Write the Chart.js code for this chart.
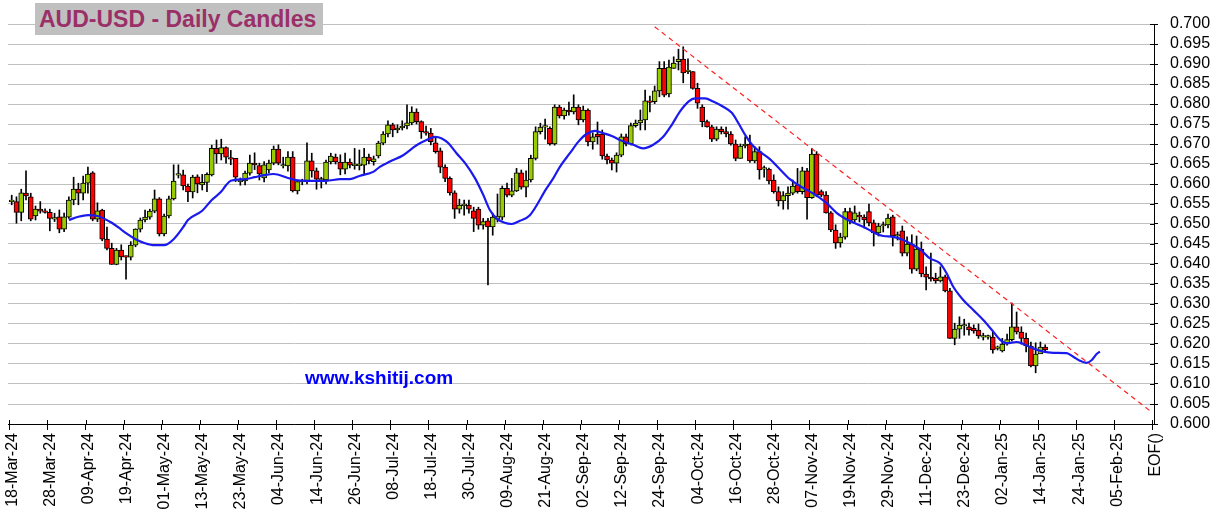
<!DOCTYPE html>
<html>
<head>
<meta charset="utf-8">
<script src="https://cdn.jsdelivr.net/npm/chart.js@4.4.1/dist/chart.umd.min.js"></script>
<style>
  html, body { margin: 0; padding: 0; background: #ffffff; }
  #wrap { position: relative; width: 1220px; height: 532px; overflow: hidden; }
  canvas { position: absolute; left: 0; top: 0; }
  #title { position: absolute; left: 35px; top: 3px; width: 288px; height: 32px; background: #c0c0c0;
           font: bold 23px "Liberation Sans", Arial, sans-serif; color: #9b3068; line-height: 32px;
           padding-left: 4px; box-sizing: border-box; white-space: nowrap; }
  #site { position: absolute; left: 305px; top: 368px; font: bold 19px "Liberation Sans", Arial, sans-serif;
          color: #0000ff; line-height: 19px; white-space: nowrap; }
</style>
</head>
<body>
<div id="wrap">
  <canvas id="c" width="1220" height="532"></canvas>
  <div id="title">AUD-USD - Daily Candles</div>
  <div id="site">www.kshitij.com</div>
</div>
<script>
// ---- tick labels (every 8 trading days, first at index 0) ----
const tickLabels = ['18-Mar-24','28-Mar-24','09-Apr-24','19-Apr-24','01-May-24','13-May-24','23-May-24','04-Jun-24',
  '14-Jun-24','26-Jun-24','08-Jul-24','18-Jul-24','30-Jul-24','09-Aug-24','21-Aug-24','02-Sep-24','12-Sep-24',
  '24-Sep-24','04-Oct-24','16-Oct-24','28-Oct-24','07-Nov-24','19-Nov-24','29-Nov-24','11-Dec-24','23-Dec-24',
  '02-Jan-25','14-Jan-25','24-Jan-25','05-Feb-25','EOF()'];
const tickStep = 8;

// ---- daily candles (index 0 = 18-Mar-24) ----
const openP = [
0.6556,0.6556,0.6529,0.6577,0.6568,0.6520,0.6537,0.6532,0.6529,0.6512,
0.6518,0.6487,0.6517,0.6560,0.6587,0.6577,0.6602,0.6628,0.6512,0.6535,
0.6462,0.6439,0.6399,0.6435,0.6418,0.6417,0.6447,0.6487,0.6510,0.6517,
0.6532,0.6563,0.6475,0.6520,0.6563,0.6622,0.6623,0.6595,0.6580,0.6618,
0.6598,0.6604,0.6623,0.6689,0.6675,0.6691,0.6664,0.6664,0.6606,0.6608,
0.6627,0.6652,0.6646,0.6615,0.6635,0.6652,0.6687,0.6645,0.6645,0.6667,
0.6583,0.6605,0.6606,0.6658,0.6633,0.6610,0.6610,0.6655,0.6667,0.6655,
0.6637,0.6655,0.6646,0.6646,0.6647,0.6667,0.6656,0.6670,0.6702,0.6725,
0.6748,0.6735,0.6740,0.6745,0.6753,0.6780,0.6756,0.6731,0.6727,0.6703,
0.6683,0.6642,0.6614,0.6578,0.6537,0.6546,0.6547,0.6533,0.6537,0.6497,
0.6508,0.6493,0.6512,0.6517,0.6589,0.6572,0.6583,0.6628,0.6592,0.6610,
0.6664,0.6731,0.6742,0.6739,0.6700,0.6792,0.6770,0.6785,0.6780,0.6792,
0.6760,0.6785,0.6705,0.6725,0.6725,0.6670,0.6660,0.6652,0.6672,0.6718,
0.6700,0.6746,0.6753,0.6760,0.6808,0.6806,0.6833,0.6889,0.6825,0.6889,
0.6906,0.6912,0.6881,0.6881,0.6839,0.6792,0.6756,0.6743,0.6712,0.6737,
0.6731,0.6725,0.6700,0.6664,0.6695,0.6700,0.6658,0.6681,0.6637,0.6637,
0.6610,0.6581,0.6558,0.6571,0.6577,0.6598,0.6581,0.6633,0.6566,0.6675,
0.6581,0.6572,0.6528,0.6485,0.6453,0.6467,0.6531,0.6510,0.6520,0.6517,
0.6531,0.6503,0.6478,0.6495,0.6498,0.6518,0.6470,0.6483,0.6427,0.6450,
0.6387,0.6437,0.6375,0.6367,0.6364,0.6358,0.6368,0.6333,0.6214,0.6237,
0.6245,0.6243,0.6239,0.6235,0.6217,0.6217,0.6217,0.6189,0.6183,0.6200,
0.6211,0.6243,0.6230,0.6214,0.6195,0.6145,0.6175,0.6192];
const highP = [
0.6572,0.6568,0.6587,0.6633,0.6577,0.6545,0.6556,0.6538,0.6537,0.6527,
0.6535,0.6527,0.6568,0.6617,0.6602,0.6620,0.6642,0.6631,0.6553,0.6537,
0.6492,0.6452,0.6439,0.6448,0.6420,0.6456,0.6488,0.6515,0.6535,0.6537,
0.6585,0.6566,0.6525,0.6570,0.6648,0.6648,0.6635,0.6600,0.6622,0.6623,
0.6624,0.6628,0.6697,0.6710,0.6712,0.6693,0.6684,0.6664,0.6615,0.6632,
0.6672,0.6678,0.6652,0.6656,0.6660,0.6695,0.6698,0.6667,0.6681,0.6681,
0.6610,0.6612,0.6703,0.6677,0.6640,0.6617,0.6660,0.6677,0.6675,0.6673,
0.6677,0.6663,0.6689,0.6685,0.6689,0.6675,0.6670,0.6707,0.6731,0.6758,
0.6752,0.6748,0.6758,0.6798,0.6793,0.6788,0.6758,0.6745,0.6739,0.6718,
0.6690,0.6648,0.6618,0.6583,0.6562,0.6560,0.6560,0.6542,0.6542,0.6514,
0.6514,0.6527,0.6575,0.6595,0.6602,0.6614,0.6639,0.6635,0.6633,0.6672,
0.6743,0.6752,0.6762,0.6743,0.6798,0.6797,0.6790,0.6805,0.6823,0.6798,
0.6795,0.6788,0.6728,0.6755,0.6735,0.6675,0.6665,0.6678,0.6725,0.6725,
0.6752,0.6760,0.6785,0.6835,0.6820,0.6845,0.6906,0.6906,0.6910,0.6918,
0.6937,0.6943,0.6913,0.6881,0.6852,0.6798,0.6760,0.6747,0.6743,0.6743,
0.6742,0.6731,0.6710,0.6700,0.6718,0.6722,0.6693,0.6693,0.6645,0.6640,
0.6623,0.6593,0.6581,0.6593,0.6610,0.6639,0.6642,0.6639,0.6689,0.6681,
0.6585,0.6581,0.6531,0.6498,0.6477,0.6539,0.6540,0.6545,0.6530,0.6523,
0.6550,0.6510,0.6502,0.6505,0.6525,0.6522,0.6480,0.6495,0.6468,0.6473,
0.6470,0.6455,0.6393,0.6427,0.6377,0.6393,0.6372,0.6339,0.6252,0.6268,
0.6262,0.6252,0.6248,0.6250,0.6227,0.6222,0.6231,0.6195,0.6214,0.6225,
0.6302,0.6280,0.6243,0.6227,0.6205,0.6203,0.6205,0.6198];
const lowP = [
0.6548,0.6502,0.6508,0.6560,0.6508,0.6510,0.6527,0.6527,0.6483,0.6506,
0.6478,0.6481,0.6514,0.6548,0.6548,0.6560,0.6577,0.6508,0.6506,0.6458,
0.6435,0.6399,0.6398,0.6410,0.6362,0.6410,0.6443,0.6480,0.6505,0.6512,
0.6528,0.6470,0.6470,0.6515,0.6560,0.6615,0.6585,0.6556,0.6565,0.6578,
0.6585,0.6581,0.6620,0.6652,0.6660,0.6652,0.6648,0.6606,0.6597,0.6598,
0.6622,0.6636,0.6610,0.6605,0.6628,0.6648,0.6648,0.6640,0.6632,0.6580,
0.6575,0.6598,0.6600,0.6617,0.6587,0.6590,0.6600,0.6650,0.6650,0.6623,
0.6625,0.6640,0.6637,0.6635,0.6625,0.6650,0.6647,0.6665,0.6698,0.6718,
0.6718,0.6728,0.6735,0.6738,0.6748,0.6750,0.6714,0.6722,0.6698,0.6677,
0.6628,0.6606,0.6572,0.6514,0.6527,0.6522,0.6527,0.6481,0.6487,0.6487,
0.6348,0.6472,0.6505,0.6510,0.6568,0.6568,0.6581,0.6587,0.6568,0.6605,
0.6660,0.6725,0.6712,0.6697,0.6697,0.6765,0.6762,0.6772,0.6775,0.6748,
0.6755,0.6695,0.6687,0.6700,0.6662,0.6650,0.6635,0.6630,0.6668,0.6695,
0.6698,0.6742,0.6735,0.6735,0.6780,0.6801,0.6818,0.6818,0.6818,0.6889,
0.6885,0.6853,0.6876,0.6837,0.6789,0.6743,0.6742,0.6706,0.6708,0.6725,
0.6718,0.6697,0.6658,0.6664,0.6690,0.6654,0.6653,0.6612,0.6617,0.6600,
0.6577,0.6545,0.6537,0.6537,0.6573,0.6577,0.6575,0.6512,0.6564,0.6568,
0.6568,0.6527,0.6481,0.6439,0.6442,0.6462,0.6500,0.6505,0.6505,0.6490,
0.6495,0.6445,0.6470,0.6480,0.6490,0.6445,0.6460,0.6420,0.6420,0.6377,
0.6383,0.6368,0.6335,0.6357,0.6352,0.6355,0.6330,0.6214,0.6198,0.6214,
0.6222,0.6222,0.6227,0.6214,0.6210,0.6212,0.6177,0.6185,0.6180,0.6197,
0.6208,0.6225,0.6200,0.6180,0.6143,0.6128,0.6180,0.6182];
const closeP = [
0.6557,0.6529,0.6578,0.6570,0.6512,0.6537,0.6532,0.6529,0.6514,0.6516,
0.6487,0.6518,0.6560,0.6587,0.6577,0.6602,0.6625,0.6512,0.6533,0.6462,
0.6439,0.6399,0.6435,0.6418,0.6417,0.6447,0.6487,0.6510,0.6517,0.6532,
0.6563,0.6475,0.6520,0.6563,0.6607,0.6625,0.6595,0.6580,0.6617,0.6600,
0.6604,0.6624,0.6689,0.6675,0.6691,0.6667,0.6662,0.6617,0.6610,0.6627,
0.6652,0.6648,0.6625,0.6648,0.6652,0.6687,0.6652,0.6645,0.6667,0.6583,
0.6606,0.6607,0.6658,0.6633,0.6612,0.6610,0.6655,0.6670,0.6655,0.6637,
0.6655,0.6647,0.6646,0.6647,0.6667,0.6658,0.6663,0.6702,0.6725,0.6748,
0.6735,0.6740,0.6745,0.6753,0.6780,0.6756,0.6731,0.6727,0.6706,0.6681,
0.6642,0.6614,0.6578,0.6537,0.6547,0.6547,0.6537,0.6514,0.6497,0.6506,
0.6493,0.6517,0.6520,0.6589,0.6572,0.6583,0.6628,0.6592,0.6610,0.6664,
0.6731,0.6742,0.6744,0.6700,0.6792,0.6770,0.6785,0.6780,0.6792,0.6760,
0.6785,0.6705,0.6718,0.6718,0.6670,0.6660,0.6652,0.6672,0.6718,0.6700,
0.6746,0.6752,0.6760,0.6808,0.6804,0.6833,0.6889,0.6822,0.6892,0.6902,
0.6912,0.6878,0.6881,0.6839,0.6802,0.6756,0.6743,0.6712,0.6737,0.6731,
0.6725,0.6700,0.6664,0.6695,0.6700,0.6658,0.6681,0.6635,0.6639,0.6608,
0.6581,0.6558,0.6571,0.6577,0.6595,0.6581,0.6633,0.6566,0.6675,0.6572,
0.6572,0.6528,0.6485,0.6453,0.6467,0.6531,0.6508,0.6528,0.6518,0.6510,
0.6503,0.6478,0.6495,0.6498,0.6515,0.6470,0.6472,0.6427,0.6450,0.6387,
0.6437,0.6375,0.6367,0.6363,0.6358,0.6368,0.6333,0.6214,0.6237,0.6247,
0.6247,0.6235,0.6233,0.6220,0.6217,0.6217,0.6185,0.6189,0.6200,0.6211,
0.6243,0.6230,0.6214,0.6195,0.6145,0.6175,0.6192,0.6185];

// ---- blue moving-average line, read at these bar positions ----
const maX = [12,14,16,18,21,23,24,26,28,30,32,34,36,37,40,42,44,45,46,49,51,53,55,58,60,63,66,69,71,73,76,77.3,79.4,
  82.2,85,87.1,88.9,90.3,91.7,93.4,95.2,97.3,99,100.4,101.8,103.5,105,106.7,108.8,112.3,113.7,115.1,117.2,119,120.7,
  122.5,123.9,126,127.7,130.5,132.6,134.7,136.8,138.6,140.3,142.1,143.5,145.6,147.3,149.4,151.2,152.6,154,155.7,157.3,
  159.2,161.3,163.4,165.5,167.6,169.4,171.1,173.2,175.3,177.4,179.5,181.3,183,185.1,187.2,188.6,190.7,192.8,194.9,
  196.3,197.7,199.8,201.9,204,206.1,207.5,208.9,211,212.4,214.5,216.6,218.7,221.5,222.9,224.3,225.7,226.8,227.8,228.5];
const maY = [0.6510,0.6518,0.6522,0.6520,0.6503,0.6486,0.6477,0.6462,0.6452,0.6447,0.6447,0.6462,0.6492,0.6510,0.6533,
  0.6560,0.6581,0.6597,0.6608,0.6612,0.6617,0.6622,0.6625,0.6615,0.6609,0.6608,0.6608,0.6612,0.6612,0.6620,0.6631,0.6643,
  0.6656,0.6672,0.6697,0.6710,0.6718,0.6714,0.6702,0.6677,0.6652,0.6614,0.6573,0.6535,0.6514,0.6503,0.6500,0.6508,0.6522,
  0.6589,0.6614,0.6643,0.6677,0.6706,0.6725,0.6733,0.6728,0.6720,0.6710,0.6698,0.6689,0.6698,0.6718,0.6748,0.6781,0.6806,
  0.6814,0.6814,0.6806,0.6793,0.6778,0.6752,0.6723,0.6695,0.6679,0.6662,0.6637,0.6612,0.6595,0.6581,0.6568,0.6552,0.6528,
  0.6512,0.6500,0.6489,0.6477,0.6470,0.6468,0.6460,0.6452,0.6437,0.6414,0.6402,0.6377,0.6343,0.6310,0.6285,0.6260,0.6231,
  0.6211,0.6202,0.6205,0.6200,0.6189,0.6181,0.6178,0.6177,0.6168,0.6158,0.6153,0.6160,0.6175,0.6181];

// ---- red dashed trend line ----
const trendX = [135, 239];
const trendY = [0.6993, 0.6033];

// ---- y axis ----
const yMin = 0.600, yMax = 0.700, yStep = 0.005;

const idx = openP.map((_, i) => i);
const wickData = idx.map(i => ({ x: i, y: [lowP[i], highP[i]] }));
const bodyData = idx.map(i => ({ x: i, y: [openP[i], closeP[i]] }));
const bodyColors = idx.map(i => closeP[i] >= openP[i] ? '#99cc00' : '#ff0000');
const maData = maX.map((x, k) => ({ x, y: maY[k] }));
const trendData = trendX.map((x, k) => ({ x, y: trendY[k] }));

Chart.defaults.font.family = '"Liberation Sans", Arial, sans-serif';
Chart.defaults.color = '#000';

const crossTicks = {
  id: 'crossTicks',
  afterDraw(chart) {
    const { ctx, chartArea, scales } = chart;
    ctx.save();
    ctx.strokeStyle = '#000';
    ctx.lineWidth = 1;
    ctx.beginPath();
    scales.y.ticks.forEach(t => {
      const py = Math.round(scales.y.getPixelForValue(t.value)) + 0.5;
      ctx.moveTo(chartArea.right - 4, py); ctx.lineTo(chartArea.right, py);
    });
    scales.x.ticks.forEach(t => {
      const px = Math.round(scales.x.getPixelForValue(t.value)) + 0.5;
      ctx.moveTo(px, chartArea.bottom - 4); ctx.lineTo(px, chartArea.bottom);
    });
    ctx.stroke();
    ctx.restore();
  }
};

new Chart(document.getElementById('c'), {
  data: {
    datasets: [
      { type: 'bar', data: wickData, backgroundColor: '#000', borderWidth: 0, barThickness: 1,
        grouped: false, order: 3 },
      { type: 'bar', data: bodyData, backgroundColor: bodyColors, borderColor: '#000', borderWidth: 1,
        borderSkipped: false, barThickness: 5, minBarLength: 1.5, grouped: false, order: 2 },
      { type: 'line', data: maData, borderColor: '#1a1aee', borderWidth: 2.2, pointRadius: 0,
        cubicInterpolationMode: 'monotone', order: 1 },
      { type: 'line', data: trendData, borderColor: '#ff2020', borderWidth: 1.2, borderDash: [5, 4],
        pointRadius: 0, order: 0 }
    ]
  },
  options: {
    responsive: false,
    animation: false,
    devicePixelRatio: 1,
    layout: { padding: { left: 8, top: 24, right: 0, bottom: 0 } },
    plugins: { legend: { display: false }, tooltip: { enabled: false }, title: { display: false } },
    scales: {
      x: {
        type: 'linear',
        offset: false,
        min: -0.78, max: 239.85,
        afterBuildTicks: (s) => { s.ticks = tickLabels.map((_, k) => ({ value: k * tickStep - 0.5 })); },
        afterFit: (s) => { s.height = 108; s.paddingLeft = 0; s.paddingRight = 0; },
        ticks: {
          autoSkip: false, minRotation: 90, maxRotation: 90, padding: 3, labelOffset: 3,
          font: { size: 16 }, color: '#000',
          callback: (v) => tickLabels[Math.round((v + 0.5) / tickStep)]
        },
        grid: { offset: false, drawOnChartArea: false, color: '#000', tickLength: 6 },
        border: { color: '#000', width: 1 }
      },
      y: {
        type: 'linear',
        position: 'right',
        min: yMin, max: yMax,
        afterBuildTicks: (s) => {
          const t = [];
          for (let k = 0; k <= Math.round((yMax - yMin) / yStep); k++) t.push({ value: yMin + k * yStep });
          s.ticks = t;
        },
        afterFit: (s) => { s.width = 66; s.paddingTop = 0; s.paddingBottom = 0; },
        ticks: { autoSkip: false, padding: 12, font: { size: 16 }, color: '#000', callback: (v) => v.toFixed(3) },
        grid: { color: '#c0c0c0', tickColor: '#000', tickLength: 4 },
        border: { color: '#000', width: 1 }
      }
    }
  },
  plugins: [crossTicks]
});
</script>
</body>
</html>
